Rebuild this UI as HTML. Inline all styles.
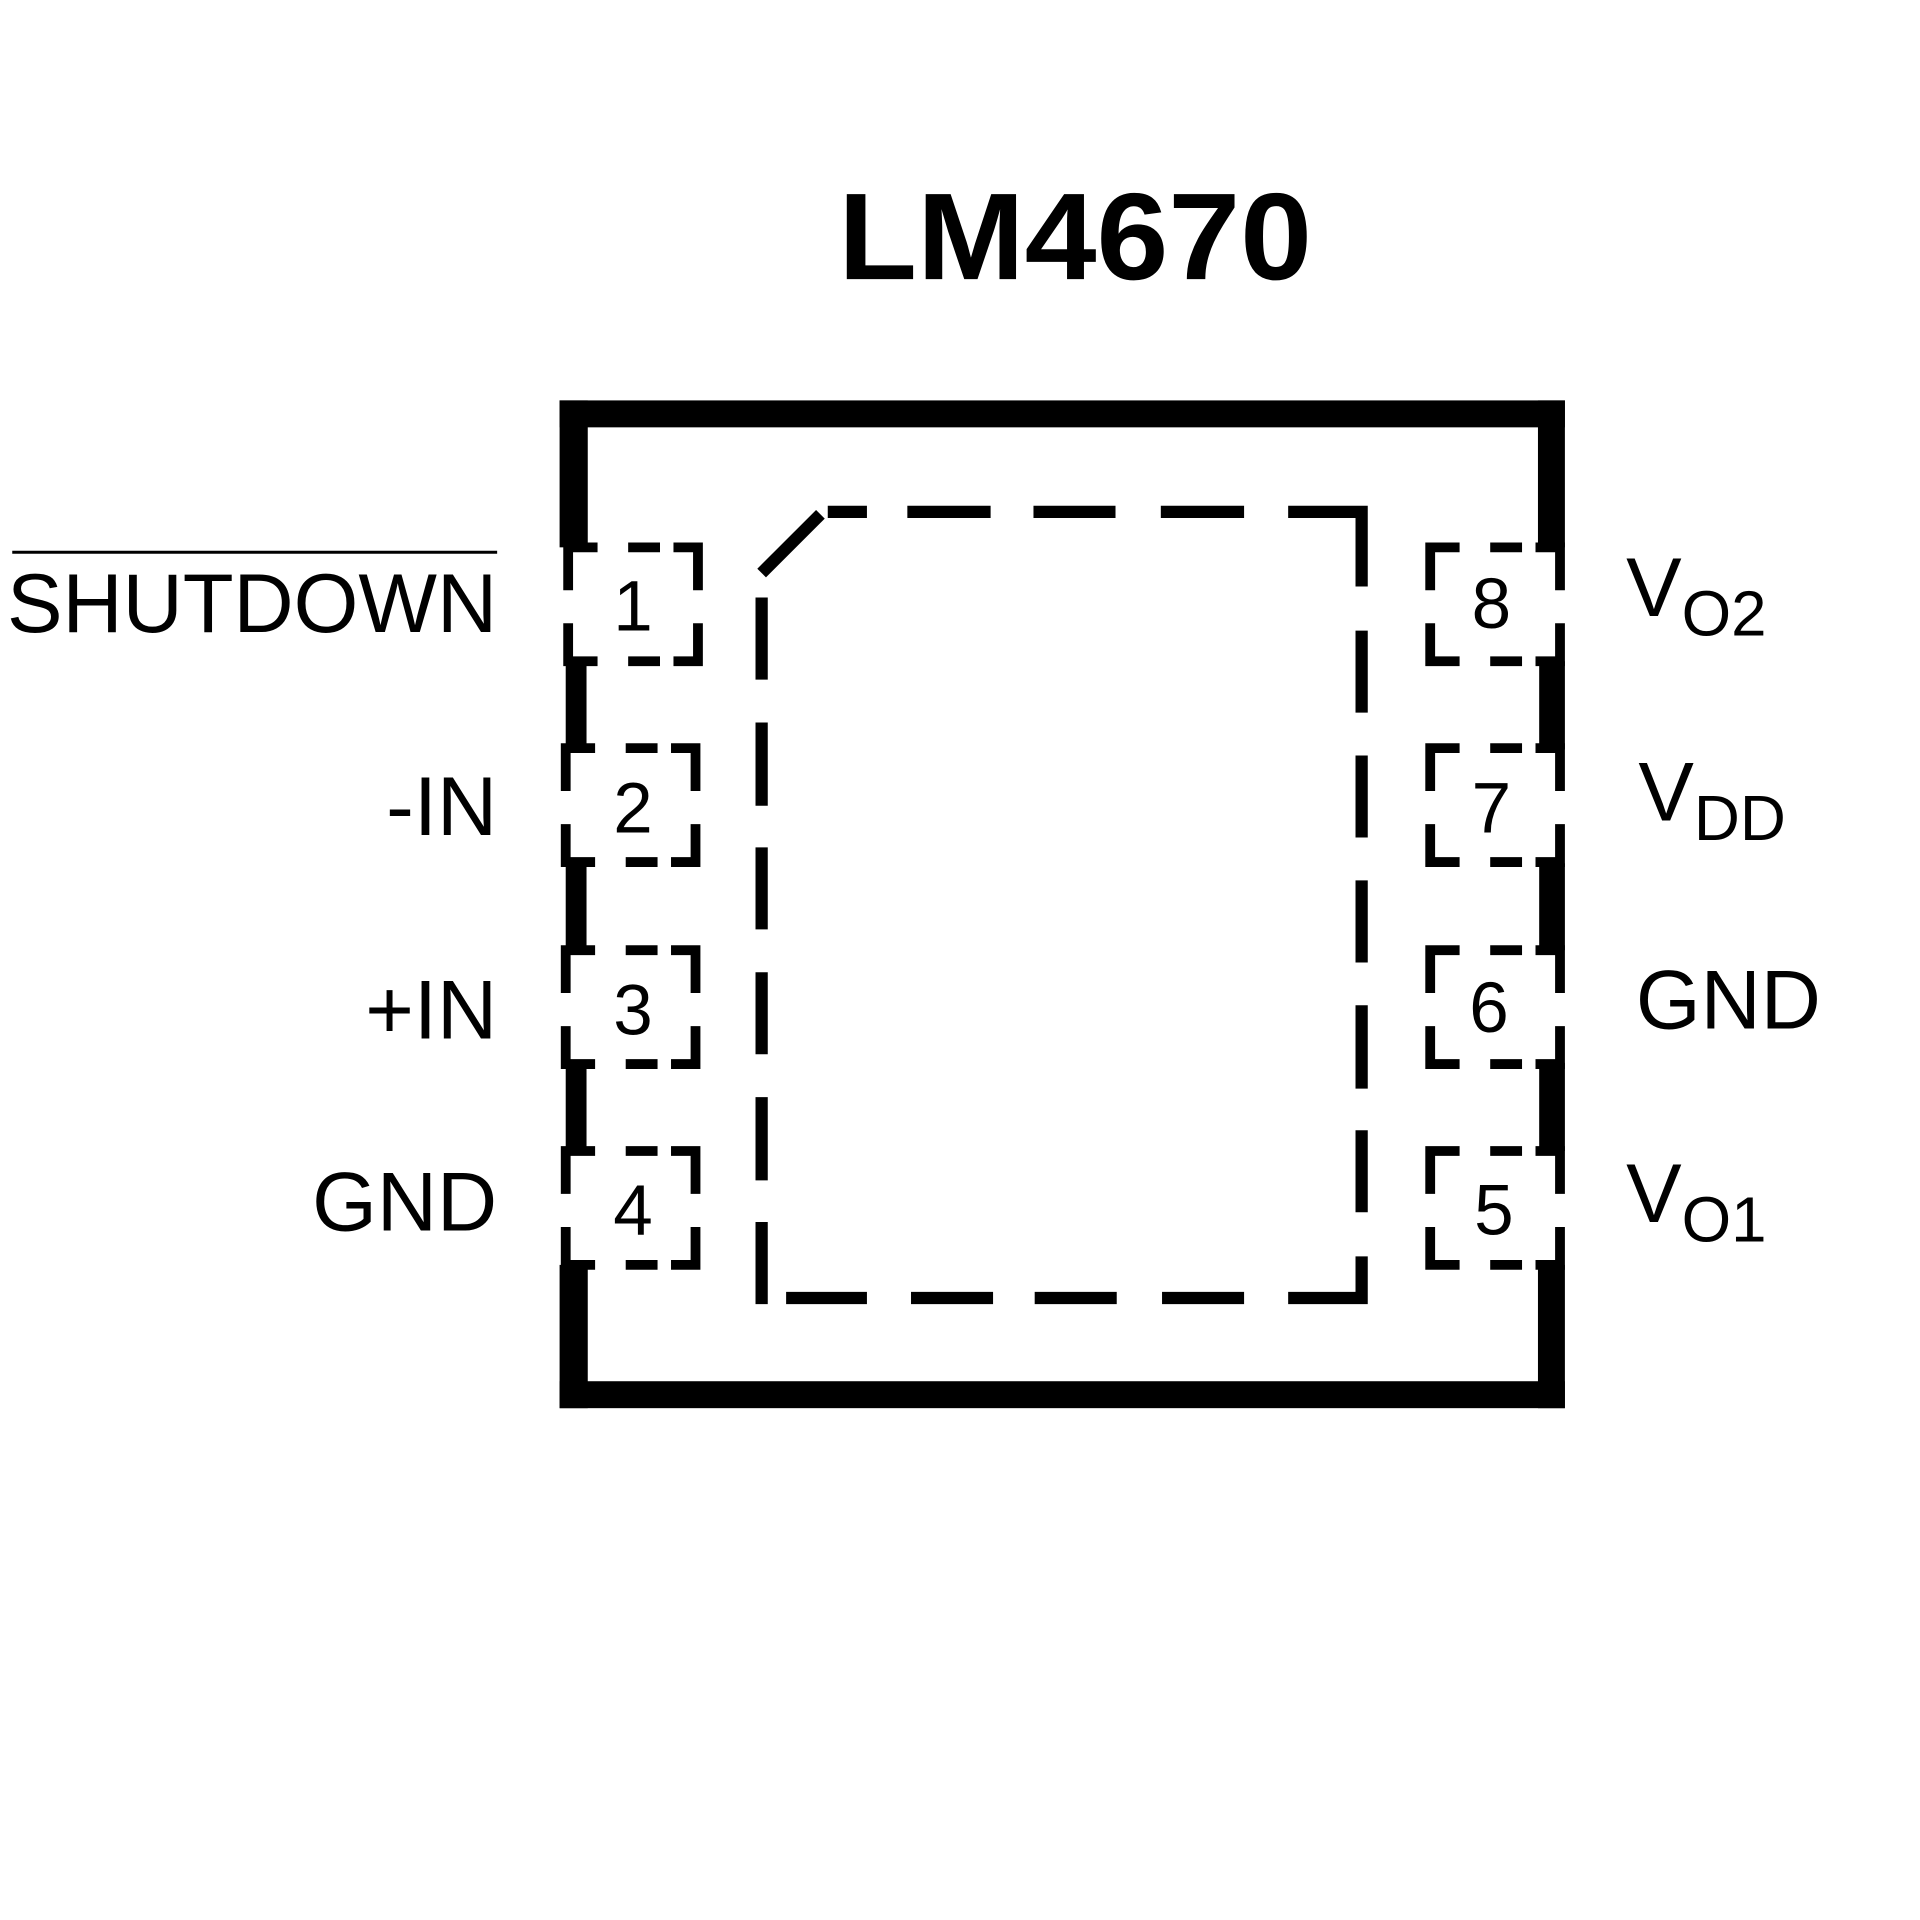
<!DOCTYPE html>
<html><head><meta charset="utf-8"><style>html,body{margin:0;padding:0;background:#fff}svg{display:block}</style></head>
<body>
<svg width="1920" height="1920" viewBox="0 0 1568 1568" xmlns="http://www.w3.org/2000/svg">
<defs>
<g id="pb" fill="none" stroke="#000" stroke-width="8" stroke-linecap="butt">
  <path d="M0,35 V0 H24 M49,0 H75 M86,0 H106 V35 M106,62 V93 H86 M75,93 H49 M24,93 H0 V62"/>
</g>
</defs>
<rect width="1568" height="1568" fill="#fff"/>
<text x="878" y="228" font-family="Liberation Sans, Arial, sans-serif" font-weight="bold" font-size="101" text-anchor="middle" textLength="387" lengthAdjust="spacingAndGlyphs">LM4670</text>
<rect x="457" y="327" width="821" height="22" fill="#000"/>
<rect x="457" y="1128" width="821" height="22" fill="#000"/>
<rect x="457" y="327" width="23" height="120" fill="#000"/>
<rect x="462" y="540" width="17" height="72" fill="#000"/>
<rect x="462" y="705" width="17" height="71" fill="#000"/>
<rect x="462" y="868" width="17" height="72" fill="#000"/>
<rect x="457" y="1033" width="23" height="117" fill="#000"/>
<rect x="1256" y="327" width="22" height="120" fill="#000"/>
<rect x="1257" y="540" width="21" height="72" fill="#000"/>
<rect x="1257" y="705" width="21" height="71" fill="#000"/>
<rect x="1257" y="868" width="21" height="72" fill="#000"/>
<rect x="1256" y="1033" width="22" height="117" fill="#000"/>
<use href="#pb" transform="translate(464,447)"/>
<use href="#pb" transform="translate(462,611)"/>
<use href="#pb" transform="translate(462,776)"/>
<use href="#pb" transform="translate(462,940)"/>
<use href="#pb" transform="translate(1168,447)"/>
<use href="#pb" transform="translate(1168,611)"/>
<use href="#pb" transform="translate(1168,776)"/>
<use href="#pb" transform="translate(1168,940)"/>
<g fill="none" stroke="#000" stroke-width="10" stroke-linecap="butt">
<path d="M622,468 L670,420"/>
<path d="M676,418 H708 M741,418 H809 M844,418 H911 M948,418 H1016 M1052,418 H1112 V479 M1112,515 V582 M1112,617 V684 M1112,719 V786 M1112,821 V889 M1112,923 V990 M1112,1026 V1060 H1052 M1016,1060 H949 M912,1060 H845 M811,1060 H744 M708,1060 H642"/>
<path d="M622,488 V555 M622,590 V658 M622,692 V759 M622,794 V861 M622,896 V964 M622,998 V1065"/>
</g>
<g font-family="Liberation Sans, Arial, sans-serif" font-size="58" text-anchor="middle">
<text x="517" y="515">1</text>
<text x="517" y="680">2</text>
<text x="517" y="845">3</text>
<text x="517" y="1008">4</text>
<text x="1218" y="513">8</text>
<text x="1218" y="680">7</text>
<text x="1216" y="843">6</text>
<text x="1220" y="1008">5</text>
</g>
<g font-family="Liberation Sans, Arial, sans-serif" font-size="68">
<line x1="10" y1="451" x2="406" y2="451" stroke="#000" stroke-width="2.5"/>
<text x="406" y="516" text-anchor="end">SHUTDOWN</text>
<text x="406" y="682" text-anchor="end">-IN</text>
<text x="406" y="848" text-anchor="end">+IN</text>
<text x="406" y="1005" text-anchor="end">GND</text>
<text x="1328" y="503">V<tspan font-size="52" dy="16">O2</tspan></text>
<text x="1338" y="670">V<tspan font-size="52" dy="16">DD</tspan></text>
<text x="1336" y="840">GND</text>
<text x="1328" y="998">V<tspan font-size="52" dy="16">O1</tspan></text>
</g>
</svg>
</body></html>
